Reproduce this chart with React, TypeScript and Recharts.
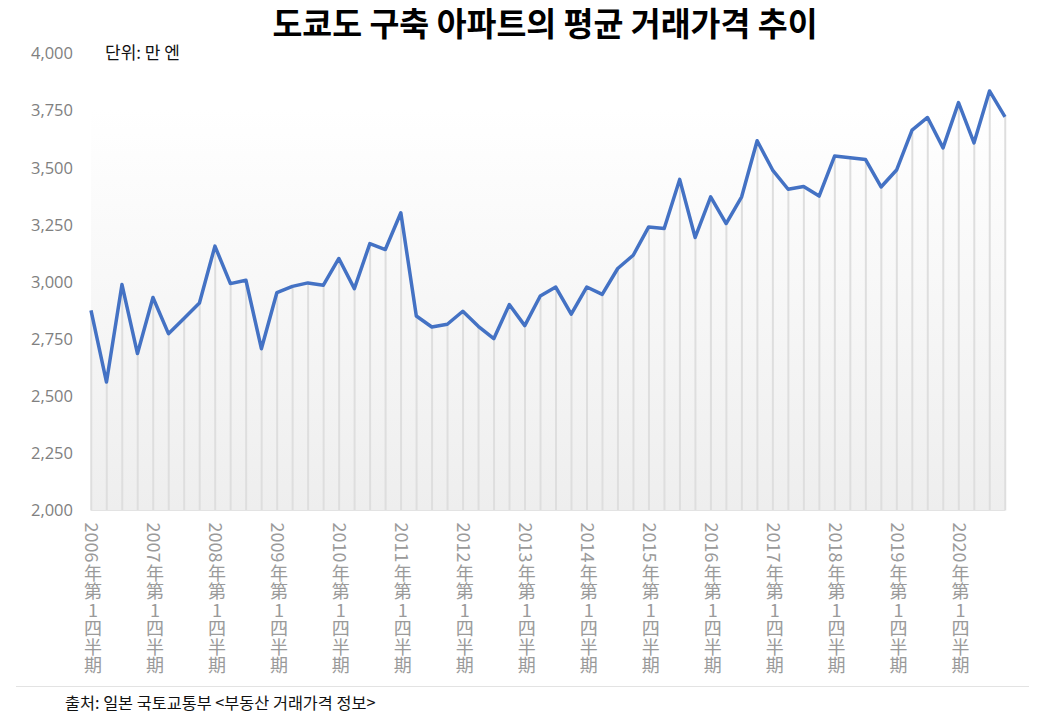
import React from 'react';
import { ComposedChart, Line, Bar, XAxis, YAxis, CartesianGrid } from 'recharts';

const years = [2006, 2007, 2008, 2009, 2010, 2011, 2012, 2013, 2014, 2015, 2016, 2017, 2018, 2019, 2020];

const prices = [
  2876, 2562, 2989, 2687,
  2932, 2774, 2840, 2908,
  3157, 2993, 3008, 2708,
  2954, 2981, 2996, 2986,
  3103, 2971, 3168, 3142,
  3303, 2851, 2803, 2815,
  2872, 2806, 2752, 2901,
  2809, 2939, 2978, 2859,
  2978, 2946, 3059, 3117,
  3241, 3234, 3449, 3195,
  3373, 3256, 3373, 3618,
  3490, 3406, 3418, 3376,
  3551, 3544, 3536, 3416,
  3490, 3665, 3720, 3587,
  3785, 3609, 3836, 3723,
];

const yTicks = [2000, 2250, 2500, 2750, 3000, 3250, 3500, 3750, 4000];
const xTicks = years.map((_, k) => k * 4);
const labelChars = ['年', '第', '1', '四', '半', '期'];

const title = '도쿄도 구축 아파트의 평균 거래가격 추이';
const unitText = '단위: 만 엔';
const sourceText = '출처: 일본 국토교통부 <부동산 거래가격 정보>';

const data = prices.map((v, i) => ({ i, price: v }));

const XTick = (props: any) => {
  const { x, y, payload } = props;
  const year = years[Math.floor(payload.value / 4)];
  const cx = x + 2;
  const top = y + 12;
  const fs = 18;
  const digitsLen = 40;
  const pitch = 18.5;
  return (
    <g fill="#9a9a9a" fontSize={fs} fontFamily="'Noto Sans CJK JP', 'Noto Sans', sans-serif">
      <text
        x={cx}
        y={top}
        transform={`rotate(90 ${cx} ${top})`}
        textAnchor="start"
        dominantBaseline="central"
      >
        {year}
      </text>
      {labelChars.map((c, k) => (
        <text
          key={k}
          x={cx}
          y={top + digitsLen + pitch * (k + 0.5)}
          textAnchor="middle"
          dominantBaseline="central"
        >
          {c}
        </text>
      ))}
    </g>
  );
};

export default function App() {
  return (
    <div style={{ position: 'absolute', left: 0, top: 0, width: 1042, height: 718, background: '#fff', fontFamily: "'Noto Sans CJK KR', sans-serif" }}>
      <ComposedChart
        width={1042}
        height={718}
        data={data}
        margin={{ top: 53.5, right: 37, left: 0, bottom: 0 }}
      >
        <defs>
          <linearGradient id="bgGrad" x1="0" y1="0" x2="0" y2="1">
            <stop offset="0" stopColor="#ffffff" />
            <stop offset="0.12" stopColor="#ffffff" />
            <stop offset="1" stopColor="#eeeeee" />
          </linearGradient>
        </defs>
        <CartesianGrid horizontal={false} vertical={false} fill="url(#bgGrad)" />
        <XAxis
          type="number"
          dataKey="i"
          domain={[0, 59]}
          ticks={xTicks}
          interval={0}
          tick={<XTick />}
          axisLine={{ stroke: '#e3e3e3' }}
          tickLine={false}
          tickSize={0}
          tickMargin={0}
          height={207.5}
        />
        <YAxis
          type="number"
          domain={[2000, 4000]}
          ticks={yTicks}
          interval={0}
          tickFormatter={(v: number) => v.toLocaleString('en-US')}
          axisLine={false}
          tickLine={false}
          tickSize={6}
          tickMargin={12}
          width={91}
          tick={{ fill: '#808080', fontSize: 16.5, fontFamily: "'Open Sans', sans-serif" }}
        />
        <Bar dataKey="price" barSize={2} fill="#dedede" isAnimationActive={false} />
        <Line
          type="linear"
          dataKey="price"
          stroke="#4472C4"
          strokeWidth={3.5}
          strokeLinejoin="round"
          dot={false}
          activeDot={false}
          isAnimationActive={false}
        />
      </ComposedChart>
      <div style={{ position: 'absolute', left: 0, top: 5, width: 1090, textAlign: 'center', fontSize: 32.5, lineHeight: '34px', fontWeight: 700, color: '#000' }}>
        {title}
      </div>
      <div style={{ position: 'absolute', left: 105, top: 43, fontSize: 17, lineHeight: '18px', color: '#111' }}>
        {unitText}
      </div>
      <div style={{ position: 'absolute', left: 16, top: 686, width: 1013, borderTop: '1px solid #e3e3e3' }} />
      <div style={{ position: 'absolute', left: 65, top: 693, fontSize: 16.3, lineHeight: '18px', color: '#111' }}>
        {sourceText}
      </div>
    </div>
  );
}
